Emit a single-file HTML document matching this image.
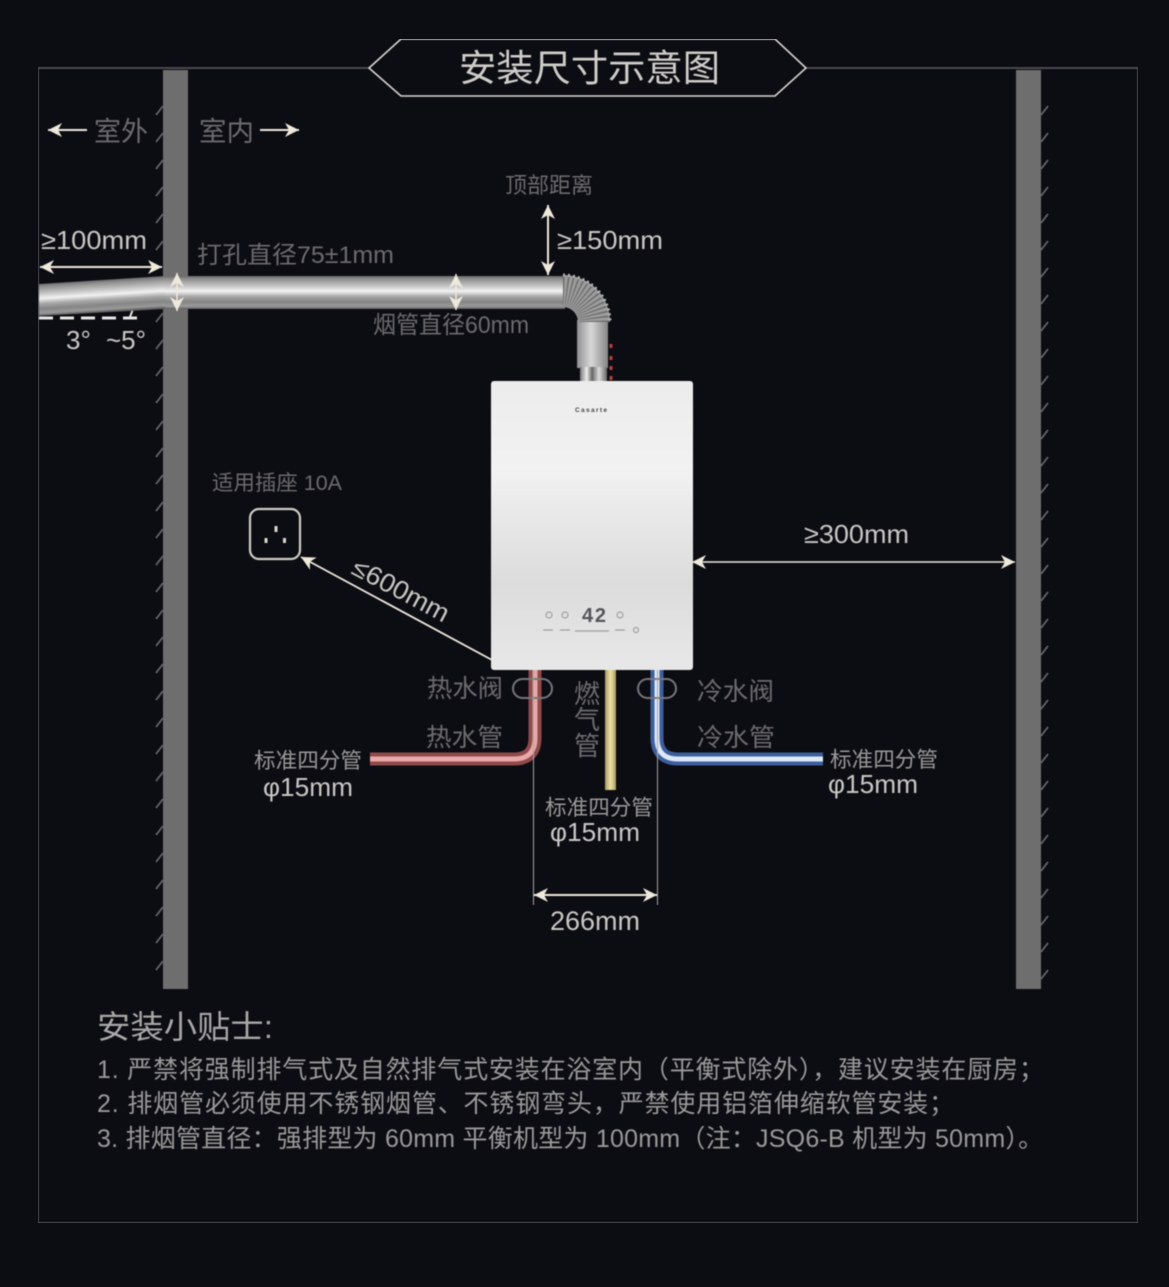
<!DOCTYPE html>
<html><head><meta charset="utf-8"><style>
html,body{margin:0;padding:0;background:#0c0c13;width:1169px;height:1287px;overflow:hidden}
svg{display:block}
text{font-family:"Liberation Sans","Noto Sans CJK SC",sans-serif}
.g{fill:#6c6c6e}.w{fill:#c9c8c4}.m{fill:#9a9a9a}
</style></head><body>
<svg width="1169" height="1287" viewBox="0 0 1169 1287" xmlns="http://www.w3.org/2000/svg">
<defs>
<linearGradient id="pipe" x1="0" y1="0" x2="0" y2="1"><stop offset="0" stop-color="#6a6a6a"/><stop offset=".08" stop-color="#8c8c8c"/><stop offset=".3" stop-color="#c4c4c4"/><stop offset=".46" stop-color="#f2f2f2"/><stop offset=".62" stop-color="#a8a8a8"/><stop offset=".78" stop-color="#858585"/><stop offset=".92" stop-color="#9a9a9a"/><stop offset="1" stop-color="#5c5c5c"/></linearGradient>
<linearGradient id="lp" gradientUnits="userSpaceOnUse" x1="100" y1="280" x2="102" y2="312"><stop offset="0" stop-color="#6a6a6a"/><stop offset=".1" stop-color="#909090"/><stop offset=".3" stop-color="#c4c4c4"/><stop offset=".46" stop-color="#f2f2f2"/><stop offset=".62" stop-color="#a8a8a8"/><stop offset=".78" stop-color="#858585"/><stop offset=".92" stop-color="#9a9a9a"/><stop offset="1" stop-color="#5c5c5c"/></linearGradient>
<linearGradient id="vp" x1="0" y1="0" x2="1" y2="0"><stop offset="0" stop-color="#8f8f8f"/><stop offset=".45" stop-color="#d8d8d8"/><stop offset="1" stop-color="#858585"/></linearGradient>
<linearGradient id="col" x1="0" y1="0" x2="1" y2="0"><stop offset="0" stop-color="#777"/><stop offset=".25" stop-color="#eee"/><stop offset=".45" stop-color="#666"/><stop offset=".7" stop-color="#ddd"/><stop offset="1" stop-color="#666"/></linearGradient>
<linearGradient id="body" x1="0" y1="0" x2="0" y2="1"><stop offset="0" stop-color="#ececec"/><stop offset=".3" stop-color="#f2f2f2"/><stop offset=".7" stop-color="#dcdcdc"/><stop offset="1" stop-color="#e8e8e8"/></linearGradient>
<linearGradient id="gas" x1="0" y1="0" x2="1" y2="0"><stop offset="0" stop-color="#a89a60"/><stop offset=".5" stop-color="#efe2a6"/><stop offset="1" stop-color="#a89a60"/></linearGradient>
<marker id="a" viewBox="0 0 15 14" refX="14" refY="7" markerWidth="15" markerHeight="14" markerUnits="userSpaceOnUse" orient="auto-start-reverse"><path d="M0 0L14 7L0 14L4 7Z" fill="#efe9dc"/></marker>
<filter id="soft" x="0" y="0" width="100%" height="100%" color-interpolation-filters="sRGB"><feGaussianBlur stdDeviation="0.45"/></filter>
</defs>
<rect width="1169" height="1287" fill="#0c0c13"/>
<g filter="url(#soft)">

<!-- frame -->
<path d="M369 68H38V1223H1138V68H806" fill="none" stroke="#5a5a60" stroke-width="1.400"/>
<path d="M369 68L401 39H775L806 68L775 96H401Z" fill="#0c0c13" stroke="#d8d6cf" stroke-width="1.600"/>
<text x="459" y="81" font-size="37" fill="#cfcdc8" textLength="261" lengthAdjust="spacingAndGlyphs">安装尺寸示意图</text>

<!-- walls -->
<rect x="163" y="70" width="25" height="919" fill="#6e6e6e"/>
<rect x="1016" y="70" width="25" height="919" fill="#6e6e6e"/>
<path stroke="#66666a" stroke-width="1.800" fill="none" d="M156 115l7-9M156 142l7-9M156 169l7-9M156 196l7-9M156 223l7-9M156 250l7-9M156 322l7-9M156 349l7-9M156 376l7-9M156 403l7-9M156 430l7-9M156 457l7-9M156 484l7-9M156 511l7-9M156 538l7-9M156 565l7-9M156 592l7-9M156 619l7-9M156 646l7-9M156 673l7-9M156 700l7-9M156 727l7-9M156 754l7-9M156 781l7-9M156 808l7-9M156 835l7-9M156 862l7-9M156 889l7-9M156 916l7-9M156 943l7-9M156 970l7-9M1041 115l7-9M1041 142l7-9M1041 169l7-9M1041 196l7-9M1041 223l7-9M1041 250l7-9M1041 277l7-9M1041 304l7-9M1041 331l7-9M1041 358l7-9M1041 385l7-9M1041 412l7-9M1041 439l7-9M1041 466l7-9M1041 493l7-9M1041 520l7-9M1041 547l7-9M1041 574l7-9M1041 601l7-9M1041 628l7-9M1041 655l7-9M1041 682l7-9M1041 709l7-9M1041 736l7-9M1041 763l7-9M1041 790l7-9M1041 817l7-9M1041 844l7-9M1041 871l7-9M1041 898l7-9M1041 925l7-9M1041 952l7-9M1041 979l7-9"/>

<!-- indoor/outdoor -->
<line x1="87" y1="130" x2="48" y2="130" stroke="#efe9dc" stroke-width="2" marker-end="url(#a)"/>
<text x="94" y="141" font-size="27" class="g" textLength="54" lengthAdjust="spacingAndGlyphs">室外</text>
<text x="199" y="141" font-size="27" class="g" textLength="55" lengthAdjust="spacingAndGlyphs">室内</text>
<line x1="260" y1="130" x2="299" y2="130" stroke="#efe9dc" stroke-width="2" marker-end="url(#a)"/>

<!-- flue -->
<path d="M39 318H138" stroke="#e6e6e6" stroke-width="3" stroke-dasharray="14 7"/>
<path d="M133 309l-3 8" stroke="#e6e6e6" stroke-width="2"/>
<polygon points="39,284 165,276 165,309 39,316" fill="url(#lp)"/>
<rect x="165" y="276" width="400" height="33" fill="url(#pipe)"/>
<rect x="577" y="320" width="31" height="48" fill="url(#vp)"/>
<rect x="580" y="367" width="27" height="14" fill="url(#col)"/>
<path d="M563 275A47 47 0 0 1 610 322H578A15 15 0 0 0 563 307Z" fill="#9c9c9c"/>
<path d="M563 291A31 31 0 0 1 594 322" fill="none" stroke="#6a6a6a" stroke-width="30" stroke-dasharray="1.100 2.300"/>
<path d="M563 275A47 47 0 0 1 610 322" fill="none" stroke="#b5b5b5" stroke-width="3" stroke-dasharray="2 3"/>
<path d="M611 344v4M611 356v4M611 366v4M611 376v4" stroke="#b8403c" stroke-width="3"/>

<!-- heater -->
<rect x="491" y="381" width="202" height="289" rx="3" fill="url(#body)"/>
<text x="575" y="412" font-size="6.500" font-weight="bold" fill="#444" textLength="32">Casarte</text>
<text x="582" y="622" font-size="20" font-weight="bold" fill="#55555a" textLength="24">42</text>
<g fill="none" stroke="#a0a0a0" stroke-width="1.200">
<circle cx="549" cy="615" r="3"/><circle cx="565" cy="615" r="3"/><circle cx="620" cy="615" r="3"/><circle cx="636" cy="630" r="2.500"/>
<path d="M575 631H609M543 630h10M560 630h10M615 630h10"/>
</g>

<!-- water/gas pipes -->
<path d="M535 670V738Q535 759 514 759H370" fill="none" stroke="#8f4a4a" stroke-width="13"/>
<path d="M535 670V738Q535 759 514 759H370" fill="none" stroke="#e8a8a8" stroke-width="5"/>
<path d="M657 670V738Q657 759 678 759H823" fill="none" stroke="#3d5f9e" stroke-width="13"/>
<path d="M657 670V738Q657 759 678 759H823" fill="none" stroke="#dce8f8" stroke-width="5"/>
<rect x="605" y="670" width="11" height="120" fill="url(#gas)"/>
<rect x="513" y="679" width="39" height="19" rx="9.500" fill="none" stroke="#77777a" stroke-width="2"/>
<rect x="638" y="679" width="38" height="19" rx="9.500" fill="none" stroke="#77777a" stroke-width="2"/>
<path d="M533.500 670V905M657.500 670V905" stroke="#a9a79f" stroke-width="1"/>

<!-- dimensions -->
<line x1="40" y1="267" x2="162" y2="267" stroke="#efe9dc" stroke-width="2" marker-start="url(#a)" marker-end="url(#a)"/>
<line x1="177" y1="273" x2="177" y2="311" stroke="#f4e8da" stroke-width="1.500" marker-start="url(#a)" marker-end="url(#a)"/>
<line x1="456" y1="274" x2="456" y2="310" stroke="#f4e8da" stroke-width="1.500" marker-start="url(#a)" marker-end="url(#a)"/>
<line x1="548" y1="205" x2="548" y2="275" stroke="#efe9dc" stroke-width="2" marker-start="url(#a)" marker-end="url(#a)"/>
<line x1="692" y1="562" x2="1015" y2="562" stroke="#efe9dc" stroke-width="1.600" marker-start="url(#a)" marker-end="url(#a)"/>
<line x1="492" y1="660" x2="301" y2="557" stroke="#efe9dc" stroke-width="1.800" marker-end="url(#a)"/>
<line x1="534" y1="895" x2="657" y2="895" stroke="#efe9dc" stroke-width="2" marker-start="url(#a)" marker-end="url(#a)"/>

<!-- outlet -->
<rect x="250" y="509" width="50" height="50" rx="9" fill="none" stroke="#cfcdc4" stroke-width="2.200"/>
<path d="M276 526v6M266 538v5M284.500 538v5" stroke="#d8d6cc" stroke-width="3"/>

<!-- labels -->
<text x="41" y="249" font-size="26" class="w" textLength="106" lengthAdjust="spacingAndGlyphs">≥100mm</text>
<text x="197" y="263" font-size="24" class="g" textLength="197" lengthAdjust="spacingAndGlyphs">打孔直径75±1mm</text>
<text x="66" y="349" font-size="26" class="w">3°</text>
<text x="106" y="349" font-size="26" class="w">~5°</text>
<text x="505" y="193" font-size="22" class="g" textLength="88" lengthAdjust="spacingAndGlyphs">顶部距离</text>
<text x="557" y="249" font-size="26" class="w" textLength="106" lengthAdjust="spacingAndGlyphs">≥150mm</text>
<text x="373" y="333" font-size="24" class="g" textLength="156" lengthAdjust="spacingAndGlyphs">烟管直径60mm</text>
<text x="212" y="490" font-size="21" class="g" textLength="130" lengthAdjust="spacingAndGlyphs">适用插座 10A</text>
<text x="804" y="543" font-size="26" class="w" textLength="105" lengthAdjust="spacingAndGlyphs">≥300mm</text>
<text transform="translate(350 573) rotate(28)" font-size="26" class="w" textLength="106" lengthAdjust="spacingAndGlyphs">≤600mm</text>
<text x="427" y="697" font-size="25" class="g" textLength="76" lengthAdjust="spacingAndGlyphs">热水阀</text>
<text x="426" y="746" font-size="25" class="g" textLength="77" lengthAdjust="spacingAndGlyphs">热水管</text>
<text x="697" y="700" font-size="25" class="g" textLength="77" lengthAdjust="spacingAndGlyphs">冷水阀</text>
<text x="697" y="746" font-size="25" class="g" textLength="78" lengthAdjust="spacingAndGlyphs">冷水管</text>
<text x="574" y="703" font-size="26" class="g">燃</text>
<text x="574" y="729" font-size="26" class="g">气</text>
<text x="574" y="755" font-size="26" class="g">管</text>
<text x="254" y="768" font-size="21.500" class="m" textLength="108" lengthAdjust="spacingAndGlyphs">标准四分管</text>
<text x="263" y="796" font-size="26" class="w" textLength="90" lengthAdjust="spacingAndGlyphs">φ15mm</text>
<text x="830" y="767" font-size="21.500" class="m" textLength="108" lengthAdjust="spacingAndGlyphs">标准四分管</text>
<text x="828" y="793" font-size="26" class="w" textLength="90" lengthAdjust="spacingAndGlyphs">φ15mm</text>
<text x="545" y="815" font-size="21.500" class="m" textLength="108" lengthAdjust="spacingAndGlyphs">标准四分管</text>
<text x="550" y="841" font-size="26" class="w" textLength="90" lengthAdjust="spacingAndGlyphs">φ15mm</text>
<text x="550" y="930" font-size="27" class="w" textLength="90" lengthAdjust="spacingAndGlyphs">266mm</text>

<!-- tips -->
<text x="97" y="1038" font-size="32" fill="#a8a8a8" textLength="176" lengthAdjust="spacingAndGlyphs">安装小贴士:</text>
<text x="97" y="1078" font-size="25" class="m" letter-spacing=".83">1. 严禁将强制排气式及自然排气式安装在浴室内（平衡式除外），建议安装在厨房；</text>
<text x="97" y="1112" font-size="25" class="m" letter-spacing=".86">2. 排烟管必须使用不锈钢烟管、不锈钢弯头，严禁使用铝箔伸缩软管安装；</text>
<text x="97" y="1147" font-size="25" class="m" letter-spacing=".23">3. 排烟管直径：强排型为 60mm 平衡机型为 100mm（注：JSQ6-B 机型为 50mm）。</text>
</g>
</svg>
</body></html>
